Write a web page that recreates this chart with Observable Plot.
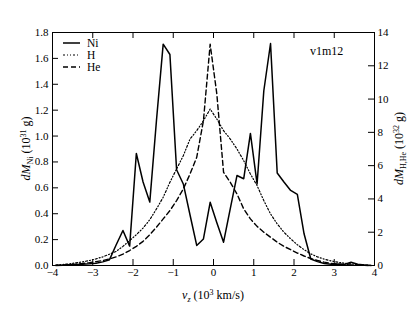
<!DOCTYPE html>
<html><head><meta charset="utf-8">
<script src="https://cdn.jsdelivr.net/npm/d3@7"></script>
<script src="https://cdn.jsdelivr.net/npm/@observablehq/plot@0.6"></script>
<style>body{margin:0;background:#fff} svg{display:block} svg text{font-family:'Liberation Serif',serif}</style>
</head><body><div id="chart"></div>
<script>
// bin centres of v_z (10^3 km/s)
const vz = [-3.917,-3.75,-3.583,-3.417,-3.25,-3.083,-2.917,-2.75,-2.583,-2.417,-2.25,-2.083,-1.917,-1.75,-1.583,-1.417,-1.25,-1.083,-0.917,-0.75,-0.583,-0.417,-0.25,-0.083,
            0.083,0.25,0.417,0.583,0.75,0.917,1.083,1.25,1.417,1.583,1.75,1.917,2.083,2.25,2.417,2.583,2.75,2.917,3.083,3.25,3.417,3.583,3.75,3.917];
// dM_Ni (10^31 g), left axis
const ni = [0.0,0.002,0.005,0.008,0.01,0.013,0.018,0.028,0.045,0.16,0.27,0.15,0.865,0.645,0.49,1.12,1.71,1.63,0.74,0.63,0.39,0.155,0.205,0.488,
            0.33,0.18,0.44,0.695,0.67,1.02,0.63,1.35,1.715,0.715,0.645,0.58,0.55,0.245,0.05,0.03,0.015,0.01,0.012,0.008,0.025,0.01,0.003,0.0];
// dM_H (10^32 g), right axis
const hyd = [0.02,0.06,0.1,0.16,0.22,0.3,0.4,0.52,0.68,0.85,1.15,1.5,1.85,2.25,2.75,3.4,4.1,5.0,5.8,6.6,7.6,8.1,8.7,9.4,
             8.8,8.1,7.6,7.0,6.3,5.5,4.8,3.9,3.1,2.5,2.0,1.6,1.25,0.95,0.7,0.52,0.38,0.28,0.2,0.14,0.1,0.06,0.03,0.01];
// dM_He (10^32 g), right axis
const hel = [0.01,0.03,0.05,0.08,0.12,0.17,0.23,0.3,0.4,0.52,0.68,0.9,1.15,1.45,1.85,2.3,2.8,3.3,3.9,4.6,5.5,6.5,8.7,13.3,
             10.3,5.6,5.0,4.3,3.4,2.8,2.35,2.0,1.7,1.4,1.15,0.95,0.75,0.57,0.42,0.3,0.2,0.13,0.09,0.06,0.04,0.02,0.01,0.0];

const xTicks = [-4,-3,-2,-1,0,1,2,3,4];
const leftTicks = [0,0.2,0.4,0.6,0.8,1.0,1.2,1.4,1.6,1.8];
const rightTicks = [0,2,4,6,8,10,12,14];
const leftMax = 1.8, rightMax = 14;
const seriesNames = ["Ni","H","He"];
const annotation = "v1m12";

const W = 415, H = 312;
const mL = 52, mR = 41, mT = 32, mB = 47;
const fw = W - mL - mR, fh = H - mT - mB;
const tick = 6;
const serif = "'Liberation Serif', serif";
const toLeft = v => v * leftMax / rightMax;

const rows = vz.map((x, i) => ({x, ni: ni[i], h: toLeft(hyd[i]), he: toLeft(hel[i])}));
const fmtX = d => d < 0 ? "\u2212" + Math.abs(d) : String(d);

const plot = Plot.plot({
  width: W, height: H,
  marginLeft: mL, marginRight: mR, marginTop: mT, marginBottom: mB,
  style: {fontFamily: serif, fontSize: "11px", color: "black", background: "white"},
  x: {domain: [-4, 4], label: null},
  y: {domain: [0, leftMax], label: null},
  marks: [
    Plot.line(rows, {x: "x", y: "h", stroke: "black", strokeWidth: 1.2, strokeDasharray: "2,2,1,2,1,2"}),
    Plot.line(rows, {x: "x", y: "he", stroke: "black", strokeWidth: 1.4, strokeDasharray: "5,3"}),
    Plot.line(rows, {x: "x", y: "ni", stroke: "black", strokeWidth: 1.5}),
    // inward ticks
    Plot.tickX(xTicks, {x: d => d, stroke: "black", insetTop: fh - tick}),
    Plot.tickX(xTicks, {x: d => d, stroke: "black", insetBottom: fh - tick}),
    Plot.tickY(leftTicks, {y: d => d, stroke: "black", insetRight: fw - tick}),
    Plot.tickY(rightTicks.map(toLeft), {y: d => d, stroke: "black", insetLeft: fw - tick}),
    Plot.axisX({anchor: "bottom", ticks: xTicks, tickSize: 0, tickPadding: 3, tickFormat: fmtX, label: null, fontSize: 11, fontFamily: serif}),
    Plot.axisY({anchor: "left", ticks: leftTicks, tickSize: 0, tickPadding: 4, tickFormat: d3.format(".1f"), label: null, fontSize: 11, fontFamily: serif}),
    Plot.axisY({anchor: "right", ticks: rightTicks.map(toLeft), tickSize: 0, tickPadding: 3,
                tickFormat: (d, i) => String(rightTicks[i]), label: null, fontSize: 11, fontFamily: serif}),
    Plot.frame({stroke: "black", strokeWidth: 1})
  ]
});

const svg = d3.select(plot);

// left axis title
{
  const t = svg.append("text").attr("transform", `translate(30,${mT + fh/2}) rotate(-90)`)
    .attr("text-anchor", "middle").attr("font-family", serif).attr("font-size", 12).attr("fill", "black");
  t.append("tspan").attr("font-style", "italic").text("dM");
  t.append("tspan").attr("font-size", 8).attr("dy", 2.5).text("Ni");
  t.append("tspan").attr("dy", -2.5).text("\u00a0(10");
  t.append("tspan").attr("font-size", 8).attr("dy", -4.5).text("31");
  t.append("tspan").attr("dy", 4.5).text("\u00a0g)");
}
// right axis title
{
  const t = svg.append("text").attr("transform", `translate(403,${mT + fh/2}) rotate(-90)`)
    .attr("text-anchor", "middle").attr("font-family", serif).attr("font-size", 12).attr("fill", "black");
  t.append("tspan").attr("font-style", "italic").text("dM");
  t.append("tspan").attr("font-size", 8).attr("dy", 2.5).text("H,He");
  t.append("tspan").attr("dy", -2.5).text("\u00a0(10");
  t.append("tspan").attr("font-size", 8).attr("dy", -4.5).text("32");
  t.append("tspan").attr("dy", 4.5).text("\u00a0g)");
}
// x axis title
{
  const t = svg.append("text").attr("x", mL + fw/2).attr("y", 299)
    .attr("text-anchor", "middle").attr("font-family", serif).attr("font-size", 12).attr("fill", "black");
  t.append("tspan").attr("font-style", "italic").text("v");
  t.append("tspan").attr("font-style", "italic").attr("font-size", 8).attr("dy", 2.5).text("z");
  t.append("tspan").attr("dy", -2.5).text("\u00a0(10");
  t.append("tspan").attr("font-size", 8).attr("dy", -4.5).text("3");
  t.append("tspan").attr("dy", 4.5).text("\u00a0km/s)");
}
// legend
const dashes = [null, "2,2,1,2,1,2", "5,3"];
const widths = [1.5, 1.2, 1.4];
seriesNames.forEach((name, i) => {
  const y = 43 + i * 12;
  svg.append("line").attr("x1", 63).attr("x2", 80).attr("y1", y).attr("y2", y)
    .attr("stroke", "black").attr("stroke-width", widths[i]).attr("stroke-dasharray", dashes[i]);
  svg.append("text").attr("x", 87).attr("y", y + 4).attr("text-anchor", "start")
    .attr("font-family", serif).attr("font-size", 11.5).attr("fill", "black").text(name);
});
svg.append("text").attr("x", 310).attr("y", 55).attr("text-anchor", "start")
  .attr("font-family", serif).attr("font-size", 12).attr("fill", "black").text(annotation);

document.getElementById("chart").appendChild(plot);
</script>
</body></html>
